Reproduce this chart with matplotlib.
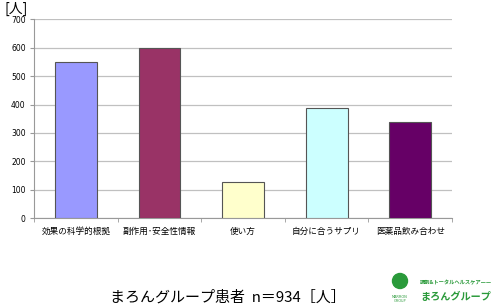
import matplotlib
matplotlib.use("Agg")
import matplotlib.pyplot as plt
from matplotlib.patches import Circle

plt.rcParams['font.family'] = ['Noto Sans CJK JP', 'DejaVu Sans']

categories = ["効果の科学的根拠", "副作用･安全性情報", "使い方", "自分に合うサプリ", "医薬品飲み合わせ"]
values = [549, 600, 129, 386, 338]
colors = ["#9999FF", "#993366", "#FFFFCC", "#CCFFFF", "#660066"]
yticks = [0, 100, 200, 300, 400, 500, 600, 700]

fig = plt.figure(figsize=(5, 3.08), dpi=100)
ax = fig.add_axes([0.068, 0.291, 0.836, 0.647])

x = list(range(len(categories)))
ax.bar(x, values, width=0.5, color=colors, edgecolor="#555555", linewidth=0.8, zorder=3)
ax.set_xlim(-0.5, len(categories) - 0.5)
ax.set_ylim(0, 700)
ax.set_yticks(yticks)
ax.set_yticklabels([str(v) for v in yticks], fontsize=5.5, family="DejaVu Sans")
ax.yaxis.grid(True, color="#c0c0c0", linewidth=0.9, zorder=0)
ax.set_axisbelow(True)

ax.set_xticks(x)
ax.set_xticklabels(categories, fontsize=6.2)
ax.tick_params(axis='x', length=0, pad=6)
ax.set_xticks([i + 0.5 for i in range(-1, len(categories))], minor=True)
ax.tick_params(axis='x', which='minor', length=3, color="#999999", direction='out')
ax.tick_params(axis='y', length=3, color="#999999", direction='out', pad=3)

for s in ["top", "right"]:
    ax.spines[s].set_visible(False)
for s in ["left", "bottom"]:
    ax.spines[s].set_color("#999999")
    ax.spines[s].set_linewidth(0.8)

fig.text(0.01, 0.995, "[人]", fontsize=10, ha="left", va="top")
fig.text(0.22, 0.035, "まろんグループ患者  n＝934［人］", fontsize=10.8, ha="left", va="center")

# logo
green = "#2a9a3a"
logo_ax = fig.add_axes([0, 0, 1, 1], facecolor="none")
logo_ax.set_xlim(0, 500)
logo_ax.set_ylim(308, 0)
logo_ax.axis("off")
logo_ax.add_patch(Circle((400, 281), 7.5, color=green))
logo_ax.text(400, 299, "MARRON\nGROUP", fontsize=2.5, color=green, ha="center", va="center",
             family="DejaVu Sans", linespacing=1.0)
logo_ax.text(420, 283, "調剤&トータルヘルスケア――", fontsize=3.8, color=green, ha="left", va="center",
             fontweight="bold")
logo_ax.text(420, 297, "まろんグループ", fontsize=7.3, color=green, ha="left", va="center", fontweight="bold")

fig.savefig("out.png", dpi=100)
